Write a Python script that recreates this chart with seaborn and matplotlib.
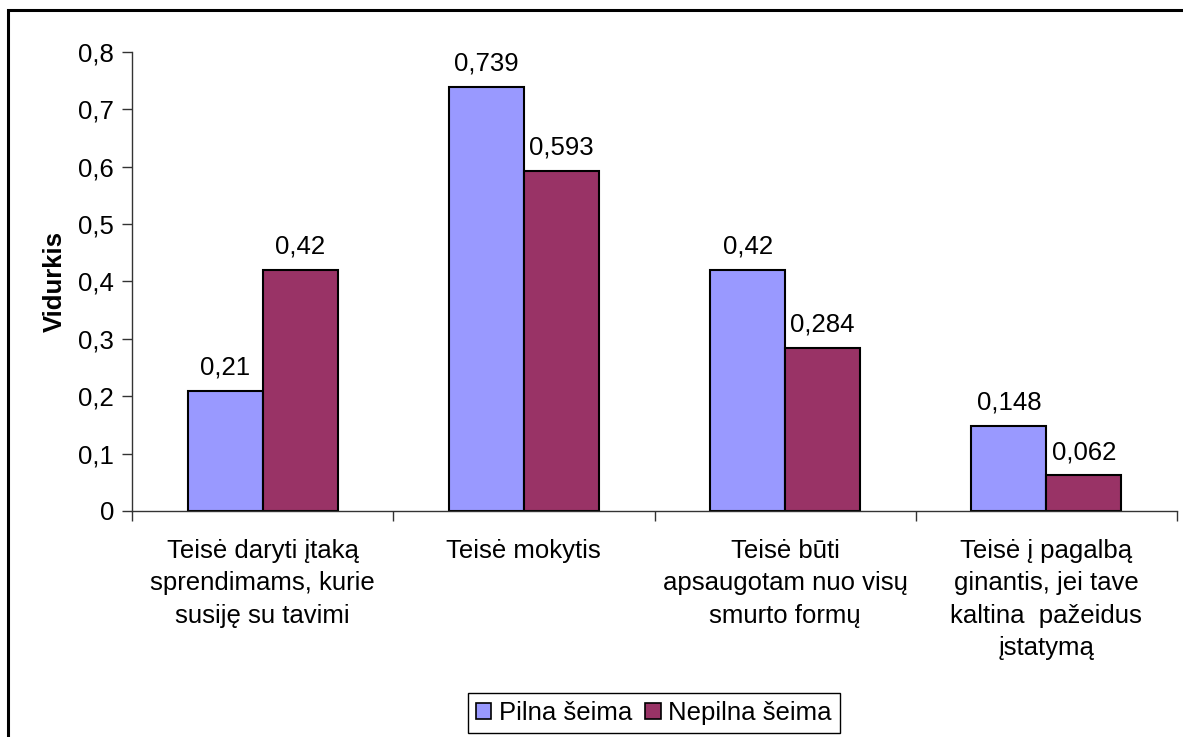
import pandas as pd
import matplotlib
matplotlib.use("Agg")
import matplotlib.pyplot as plt
import seaborn as sns
from matplotlib.patches import Rectangle, Patch

# Données
categories = [
    "Teisė daryti įtaką\nsprendimams, kurie\nsusiję su tavimi",
    "Teisė mokytis",
    "Teisė būti\napsaugotam nuo visų\nsmurto formų",
    "Teisė į pagalbą\nginantis, jei tave\nkaltina  pažeidus\nįstatymą",
]
series = ["Pilna šeima", "Nepilna šeima"]
pilna = [0.21, 0.739, 0.42, 0.148]
nepilna = [0.42, 0.593, 0.284, 0.062]
yticks = [0, 0.1, 0.2, 0.3, 0.4, 0.5, 0.6, 0.7, 0.8]
colors = ["#9999FF", "#993366"]

df = pd.DataFrame({
    "Kategorija": categories * 2,
    "Grupė": [series[0]] * 4 + [series[1]] * 4,
    "Vidurkis": pilna + nepilna,
})

sns.set_style("white")
plt.rcParams["font.family"] = ["Liberation Sans", "DejaVu Sans"]
plt.rcParams["text.color"] = "black"
plt.rcParams["xtick.color"] = "black"
plt.rcParams["ytick.color"] = "black"
plt.rcParams["axes.labelcolor"] = "black"
FS = 18.5

fig = plt.figure(figsize=(11.83, 7.37), dpi=100)
ax = fig.add_axes([132 / 1183, 1 - 511 / 737, (1177 - 132) / 1183, (511 - 52) / 737])

sns.barplot(data=df, x="Kategorija", y="Vidurkis", hue="Grupė", palette=colors, saturation=1,
            width=0.575, gap=0, edgecolor="black", linewidth=1.5, ax=ax, legend=False)

# Étiquettes de valeurs
for cont, vals in zip(ax.containers, [pilna, nepilna]):
    ax.bar_label(cont, labels=[str(v).replace(".", ",") for v in vals], padding=8,
                 fontsize=FS, color="black")

ax.set_ylim(0, 0.8)
ax.set_xlim(-0.5, 3.5)
ax.set_yticks(yticks)
ax.set_yticklabels([("%g" % t).replace(".", ",") for t in yticks], fontsize=FS)
ax.set_xticks(range(4))
ax.set_xticklabels(categories, fontsize=FS, linespacing=1.45, va="top")
ax.set_xticks([-0.5, 0.5, 1.5, 2.5, 3.5], minor=True)
ax.tick_params(axis="x", which="major", length=0, pad=20, bottom=True, labelcolor="black")
ax.tick_params(axis="x", which="minor", length=7, direction="out", color="#333333", width=1, bottom=True)
ax.tick_params(axis="y", length=7, direction="out", color="#333333", width=1, pad=6, left=True,
               labelcolor="black")
ax.set_xlabel("")
ax.set_ylabel("Vidurkis", fontsize=FS, fontweight="bold", labelpad=8, color="black")
for s in ["top", "right"]:
    ax.spines[s].set_visible(False)
for s in ["left", "bottom"]:
    ax.spines[s].set_color("#333333")
    ax.spines[s].set_linewidth(1)

# Légende
handles = [Patch(facecolor=c, edgecolor="black", linewidth=1.2) for c in colors]
leg = fig.legend(handles, series, loc="center", bbox_to_anchor=(654 / 1183, 1 - 713 / 737),
                 ncol=2, fontsize=FS, frameon=True, fancybox=False, edgecolor="black",
                 framealpha=1, handlelength=0.6, handleheight=0.6, handletextpad=0.3,
                 columnspacing=0.5, borderpad=0.3, borderaxespad=0, labelcolor="black")
leg.get_frame().set_linewidth(1)

# Cadre extérieur
fig.patches.append(Rectangle((8 / 1183, -0.1), 1.2, 1.1 - 10 / 737, transform=fig.transFigure,
                             fill=False, edgecolor="black", linewidth=2.2, figure=fig))

fig.savefig("out.png", dpi=100)
